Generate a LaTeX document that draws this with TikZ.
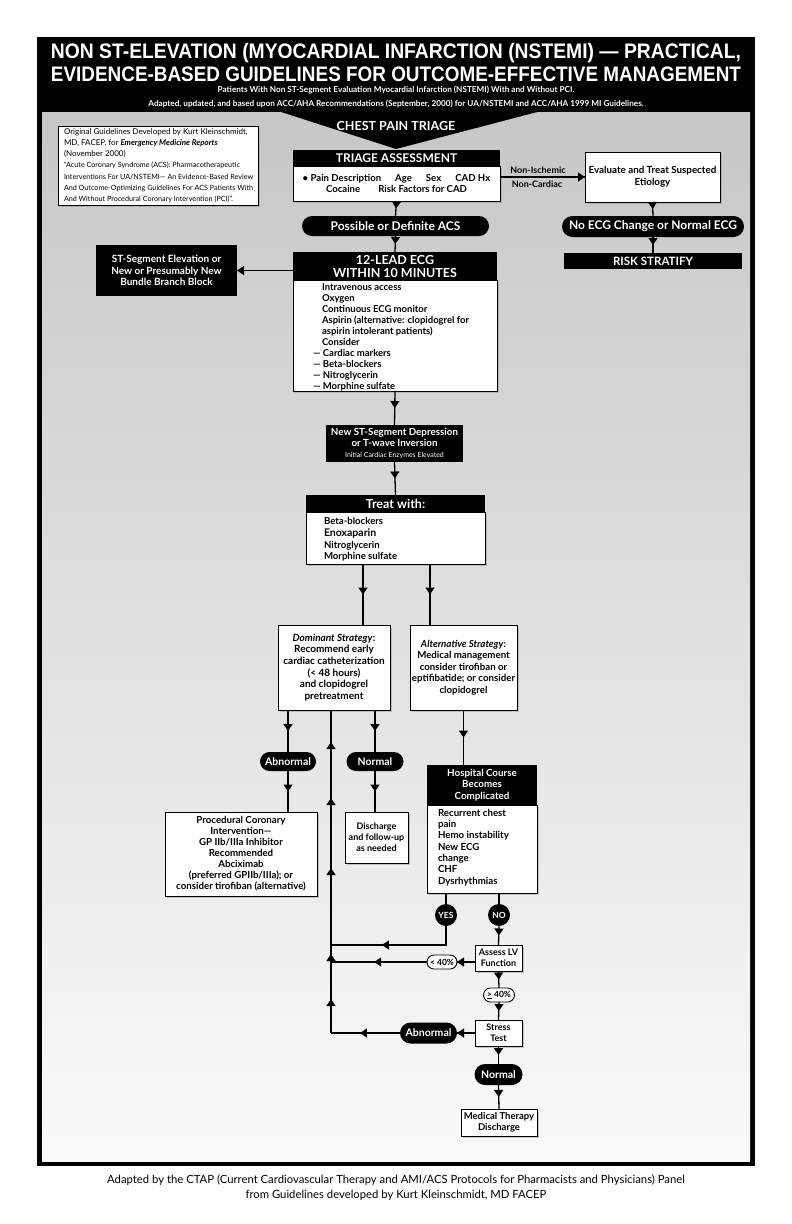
\documentclass[tikz,border=0pt]{standalone}
\usepackage{fontspec}
\setmainfont{Lato}
\newfontfamily\titlefont{Liberation Sans}
\usetikzlibrary{arrows.meta,decorations.markings,shapes.misc,shadows}
\newcommand\myfs[2]{\fontsize{#1}{#2}\selectfont}
\newcommand\tri{\arrow{Triangle[width=9pt,length=7pt]}}
\begin{document}
\begin{tikzpicture}[x=1pt,y=-1pt,
  every node/.style={inner sep=0pt,outer sep=0pt},
  ln/.style={line width=1.3pt},
  arr/.style={ln,postaction={decorate},decoration={markings,mark=at position #1 with {\tri}}},
  arr/.default=0.5,
  upl/.style={ln,postaction={decorate},decoration={markings,
     mark=at position 34pt with {\tri},mark=at position 79pt with {\tri},
     mark=at position 165pt with {\tri},mark=at position 235pt with {\tri},
     mark=at position 291pt with {\tri}}},
  wbox/.style={draw,line width=1pt,fill=white,align=center,font=\bfseries\myfs{9.6}{11.3},
     drop shadow={shadow xshift=1.5pt,shadow yshift=-1.5pt,fill=black!40}},
  bbox/.style={fill=black,text=white,align=center,font=\bfseries\myfs{9.6}{11.3}},
  pill/.style={rounded rectangle,fill=black,text=white,font=\bfseries\myfs{12}{13}},
  wpill/.style={rounded rectangle,draw,line width=0.9pt,fill=white,font=\bfseries\myfs{8.5}{9}},
  dot/.style={circle,fill=black,text=white,minimum size=22pt,font=\bfseries\myfs{8.5}{9}},
  ltext/.style={anchor=north west,align=left,font=\bfseries\myfs{9.5}{11}},
  lbl/.style={font=\bfseries\myfs{9}{10}}
]
\useasboundingbox (0,0) rectangle (792,1224);
% frame and background
\fill[black] (37,37) rectangle (755,1166);
\shade[top color=black!22,bottom color=black!2] (42,112) rectangle (750,1161);
\fill[black] (278,111) -- (396,149) -- (541,111) -- cycle;
% header texts
\node[anchor=base,text=white,font=\titlefont\bfseries\myfs{21}{21}] (t1) at (396,58)
  {\resizebox{690pt}{\height}{NON ST-ELEVATION (MYOCARDIAL INFARCTION (NSTEMI) — PRACTICAL,}};
\node[anchor=base,text=white,font=\titlefont\bfseries\myfs{21}{21}] (t2) at (396,81)
  {\resizebox{690pt}{\height}{EVIDENCE-BASED GUIDELINES FOR OUTCOME-EFFECTIVE MANAGEMENT}};
\node[text=white,font=\bfseries\myfs{8.2}{9}] (t3) at (396,90)
  {Patients With Non ST-Segment Evaluation Myocardial Infarction (NSTEMI) With and Without PCI.};
\node[text=white,font=\bfseries\myfs{8.2}{9}] (t4) at (396,103.5)
  {Adapted, updated, and based upon ACC/AHA Recommendations (September, 2000) for UA/NSTEMI and ACC/AHA 1999 MI Guidelines.};
\node[text=white,font=\bfseries\myfs{12.5}{13}] (cpt) at (396,126) {CHEST PAIN TRIAGE};
% note box
\node[wbox,minimum width=200pt,minimum height=79pt] (note) at (158,165.5) {};
\node[ltext,font=\myfs{8}{11.2}] (notetext) at (64,128.5) {%
\myfs{8}{11.2}Original Guidelines Developed by Kurt Kleinschmidt,\\
\myfs{8}{11.2}MD, FACEP, for \textbf{\textit{Emergency Medicine Reports}}\\
\myfs{8}{11.2}(November 2000)\\
\myfs{7.2}{11.2}“Acute Coronary Syndrome (ACS): Pharmacotherapeutic\\
\myfs{7.2}{11.2}Interventions For UA/NSTEMI— An Evidence-Based Review\\
\myfs{7.2}{11.2}And Outcome-Optimizing Guidelines For ACS Patients With\\
\myfs{7.2}{11.2}And Without Procedural Coronary Intervention (PCI)”.};
% triage
\node[wbox,minimum width=207pt,minimum height=35pt] (tb) at (396.5,183.5)
  {• Pain Description\hspace{14pt}Age\hspace{14pt}Sex\hspace{14pt}CAD Hx\\Cocaine\hspace{18pt}Risk Factors for CAD};
\node[bbox,minimum width=207pt,minimum height=16pt,font=\bfseries\myfs{12}{13}] (th) at (396.5,158) {TRIAGE ASSESSMENT};
\node[wbox,minimum width=135pt,minimum height=50pt,font=\bfseries\myfs{9.8}{12}] (ev) at (652.5,177) {Evaluate and Treat Suspected\\Etiology};
\node[lbl] (ni) at (538,170.5) {Non-Ischemic};
\node[lbl] (nc) at (537,184) {Non-Cardiac};
\node[pill,minimum width=182pt,minimum height=21pt] (noecg) at (653,226.5) {No ECG Change or Normal ECG};
\node[bbox,minimum width=178pt,minimum height=16pt,font=\bfseries\myfs{11.5}{12}] (risk) at (653,261) {RISK STRATIFY};
\node[pill,minimum width=187pt,minimum height=20pt] (acs) at (395.5,226) {Possible or Definite ACS};
% ECG
\node[wbox,minimum width=204pt,minimum height=111pt] (eb) at (395,335.5) {};
\node[bbox,minimum width=204pt,minimum height=28pt,font=\bfseries\myfs{12.5}{13}] (eh) at (395,266) {12-LEAD ECG\\WITHIN 10 MINUTES};
\node[ltext] (ebtext) at (313,283.5) {%
\hspace*{9pt}Intravenous access\\
\hspace*{9pt}Oxygen\\
\hspace*{9pt}Continuous ECG monitor\\
\hspace*{9pt}Aspirin (alternative: clopidogrel for\\
\hspace*{9pt}aspirin intolerant patients)\\
\hspace*{9pt}Consider\\
— Cardiac markers\\
— Beta-blockers\\
— Nitroglycerin\\
— Morphine sulfate};
\node[bbox,minimum width=141pt,minimum height=51pt,font=\bfseries\myfs{10}{11.5}] (ste) at (166.5,270.5)
  {ST-Segment Elevation or\\New or Presumably New\\Bundle Branch Block};
% New ST
\node[bbox,minimum width=137pt,minimum height=37pt,font=\bfseries\myfs{9.8}{11}] (nst) at (394.5,443.5)
  {New ST-Segment Depression\\or T-wave Inversion\\{\mdseries\myfs{7}{9}Initial Cardiac Enzymes Elevated}};
% Treat
\node[wbox,minimum width=179pt,minimum height=52pt] (trb) at (395.5,538) {};
\node[bbox,minimum width=179pt,minimum height=17pt,font=\bfseries\myfs{12.5}{13}] (trh) at (395.5,503.5) {Treat with:};
\node[ltext,font=\bfseries\myfs{9.6}{11.7}] (trtext) at (324,517.5) {Beta-blockers\\{\myfs{10.5}{11.7}Enoxaparin}\\Nitroglycerin\\Morphine sulfate};
% strategies
\node[wbox,minimum width=112pt,minimum height=85pt,font=\bfseries\myfs{10}{11.6}] (dom) at (334,667.5)
  {\textit{Dominant Strategy}:\\Recommend early\\cardiac catheterization\\(< 48 hours)\\and clopidogrel\\pretreatment};
\node[wbox,minimum width=107pt,minimum height=85pt,font=\bfseries\myfs{9.7}{11.6}] (alt) at (463.5,667.5)
  {\textit{Alternative Strategy}:\\Medical management\\consider tirofiban or\\eptifibatide; or consider\\clopidogrel};
\node[pill,minimum width=56pt,minimum height=19pt,font=\bfseries\myfs{10.5}{11}] (abn) at (288,761.5) {Abnormal};
\node[pill,minimum width=57pt,minimum height=19pt,font=\bfseries\myfs{10.5}{11}] (nor) at (375,761.5) {Normal};
\node[wbox,minimum width=152pt,minimum height=84pt,font=\bfseries\myfs{9.7}{11}] (proc) at (241,854)
  {Procedural Coronary\\Intervention—\\GP IIb/IIIa Inhibitor\\Recommended\\Abciximab\\(preferred GPIIb/IIIa); or\\consider tirofiban (alternative)};
\node[wbox,minimum width=63pt,minimum height=51pt,font=\bfseries\myfs{9}{11}] (dis) at (376.5,837.5)
  {Discharge\\and follow-up\\as needed};
% hospital
\node[wbox,minimum width=110pt,minimum height=88pt] (hb) at (482,849) {};
\node[bbox,minimum width=110pt,minimum height=40pt,font=\bfseries\myfs{9.8}{11.5}] (hh) at (482,785)
  {Hospital Course\\Becomes\\Complicated};
\node[ltext,font=\bfseries\myfs{9.7}{11.3}] (hbtext) at (438,809) {Recurrent chest\\pain\\Hemo instability\\New ECG\\change\\CHF\\Dysrhythmias};
\node[dot] (yes) at (446,915) {YES};
\node[dot] (no) at (499,915) {NO};
\node[wbox,minimum width=47pt,minimum height=26pt,font=\bfseries\myfs{9}{11}] (alv) at (498.5,958) {Assess LV\\Function};
\node[wpill,minimum width=30pt,minimum height=14pt] (lt) at (442,962) {< 40\%};
\node[wpill,minimum width=31pt,minimum height=14pt] (ge) at (499,995) {\underline{>} 40\%};
\node[wbox,minimum width=47pt,minimum height=26pt,font=\bfseries\myfs{9}{11}] (st) at (498.5,1033) {Stress\\Test};
\node[pill,minimum width=57pt,minimum height=21pt,font=\bfseries\myfs{10.5}{11}] (abn2) at (428.5,1033) {Abnormal};
\node[pill,minimum width=48pt,minimum height=21pt,font=\bfseries\myfs{10.5}{11}] (nor2) at (498.5,1074.5) {Normal};
\node[wbox,minimum width=76pt,minimum height=27pt,font=\bfseries\myfs{9.5}{11}] (med) at (499,1122.5) {Medical Therapy\\Discharge};
% footer
\node[align=center,font=\myfs{11.3}{15}] (foot) at (396,1187.5)
  {Adapted by the CTAP (Current Cardiovascular Therapy and AMI/ACS Protocols for Pharmacists and Physicians) Panel\\from Guidelines developed by Kurt Kleinschmidt, MD FACEP};
% coordinates
\coordinate (xa) at (363,600);
\coordinate (xb) at (430,600);
\coordinate (vb) at (331,1033);
\coordinate (vy) at (331,945);
\coordinate (vl) at (331,962);
% connectors
\draw[arr] (tb.south) -- (acs.north);
\draw[arr=1] (tb.east |- ev.west) -- (ev.west);
\draw[arr] (ev.south) -- (noecg.north);
\draw[arr] (noecg.south) -- (risk.north);
\draw[arr] (acs.south) -- (eh.north);
\draw[arr=1] (eh.west |- ste.east) -- (ste.east);
\draw[arr] (eb.south) -- (nst.north);
\draw[arr] (nst.south) -- (trh.north);
\draw[arr] (trb.south -| xa) -- (xa |- dom.north);
\draw[arr] (trb.south -| xb) -- (xb |- alt.north);
\draw[arr] (dom.south -| abn) -- (abn.north);
\draw[arr] (dom.south -| nor) -- (nor.north);
\draw[arr] (abn.south) -- (abn.south |- proc.north);
\draw[arr] (nor.south) -- (nor.south |- dis.north);
\draw[upl] (vb) -- (vb |- dom.south);
\draw[arr] (alt.south) -- (alt.south |- hh.north);
\draw[ln] (hb.south -| yes) -- (yes.north);
\draw[ln] (hb.south -| no) -- (no.north);
\draw[arr=0.62] (yes.south) |- (vy);
\draw[arr] (no.south) -- (alv.north);
\draw[arr=1] (alv.west |- lt.east) -- (lt.east);
\draw[arr=0.55] (lt.west) -- (vl);
\draw[arr] (alv.south) -- (ge.north);
\draw[arr] (ge.south) -- (st.north);
\draw[arr=1] (st.west |- abn2.east) -- (abn2.east);
\draw[arr=0.58] (abn2.west) -- (vb);
\draw[arr] (st.south) -- (nor2.north);
\draw[arr] (nor2.south) -- (med.north);
\end{tikzpicture}
\end{document}
